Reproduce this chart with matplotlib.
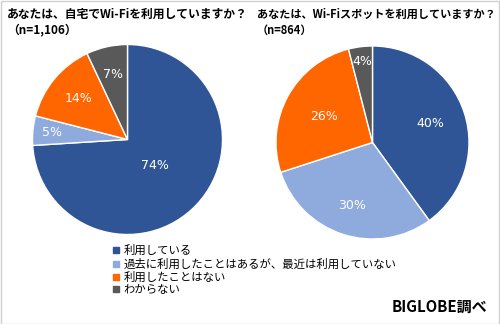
import numpy as np
import matplotlib
matplotlib.use("Agg")
import matplotlib.pyplot as plt
from matplotlib.lines import Line2D
from matplotlib.patches import Rectangle

plt.rcParams['font.family'] = ['Noto Sans CJK JP', 'DejaVu Sans']

categories = ["利用している", "過去に利用したことはあるが、最近は利用していない", "利用したことはない", "わからない"]
home_values = [74, 5, 14, 7]
spot_values = [40, 30, 26, 4]
home_title = "あなたは、自宅でWi-Fiを利用していますか？\n（n=1,106）"
spot_title = "あなたは、Wi-Fiスポットを利用していますか？\n（n=864）"
colors = ["#2F5597", "#8FAADC", "#FF6600", "#595959"]
source = "BIGLOBE調べ"

W, H = 500, 324
fig = plt.figure(figsize=(W / 100, H / 100), dpi=100)

def px_axes(cx, cy, r):
    return fig.add_axes([(cx - r) / W, 1 - (cy + r) / H, 2 * r / W, 2 * r / H])

def draw_pie(ax, values, dists):
    wedges, _ = ax.pie(values, colors=colors, startangle=90, counterclock=False,
                       radius=1, wedgeprops=dict(edgecolor="white", linewidth=1))
    total = sum(values)
    start = 90.0
    for v, d in zip(values, dists):
        span = 360.0 * v / total
        mid = np.deg2rad(start - span / 2)
        ax.text(d * np.cos(mid), d * np.sin(mid), f"{v}%", ha="center", va="center",
                color="white", fontsize=9, family=['DejaVu Sans'])
        start -= span
    ax.set_xlim(-1, 1)
    ax.set_ylim(-1, 1)
    ax.set_aspect("equal")
    ax.axis("off")
    return wedges

ax1 = px_axes(127.5, 139.5, 95)
w1 = draw_pie(ax1, home_values, [0.40, 0.80, 0.67, 0.70])
ax2 = px_axes(372.5, 142.5, 96.5)
draw_pie(ax2, spot_values, [0.63, 0.69, 0.57, 0.85])

fig.text(7 / W, 1 - 8 / H, home_title, ha="left", va="top", fontsize=8.5,
         fontweight="bold", linespacing=1.25)
fig.text(257 / W, 1 - 8 / H, spot_title, ha="left", va="top", fontsize=8.0,
         fontweight="bold", linespacing=1.32)

handles = [Line2D([0], [0], marker="s", linestyle="none", markersize=4,
                  markerfacecolor=c, markeredgecolor=c) for c in colors]
fig.legend(handles, categories, loc="upper left", bbox_to_anchor=(113 / W, 1 - 245 / H),
           frameon=False, fontsize=8.2, handlelength=0.6, handletextpad=0.3,
           labelspacing=0.2, borderpad=0, borderaxespad=0)

fig.text(487 / W, 1 - 307 / H, source, ha="right", va="center", fontsize=10.8,
         fontweight="bold")

fig.add_artist(Rectangle((0.5 / W, 0.5 / H), 1 - 1.5 / W, 1 - 1.5 / H, transform=fig.transFigure,
                         fill=False, edgecolor="#D0D0D0", linewidth=1))

fig.savefig("out.png", dpi=100)
